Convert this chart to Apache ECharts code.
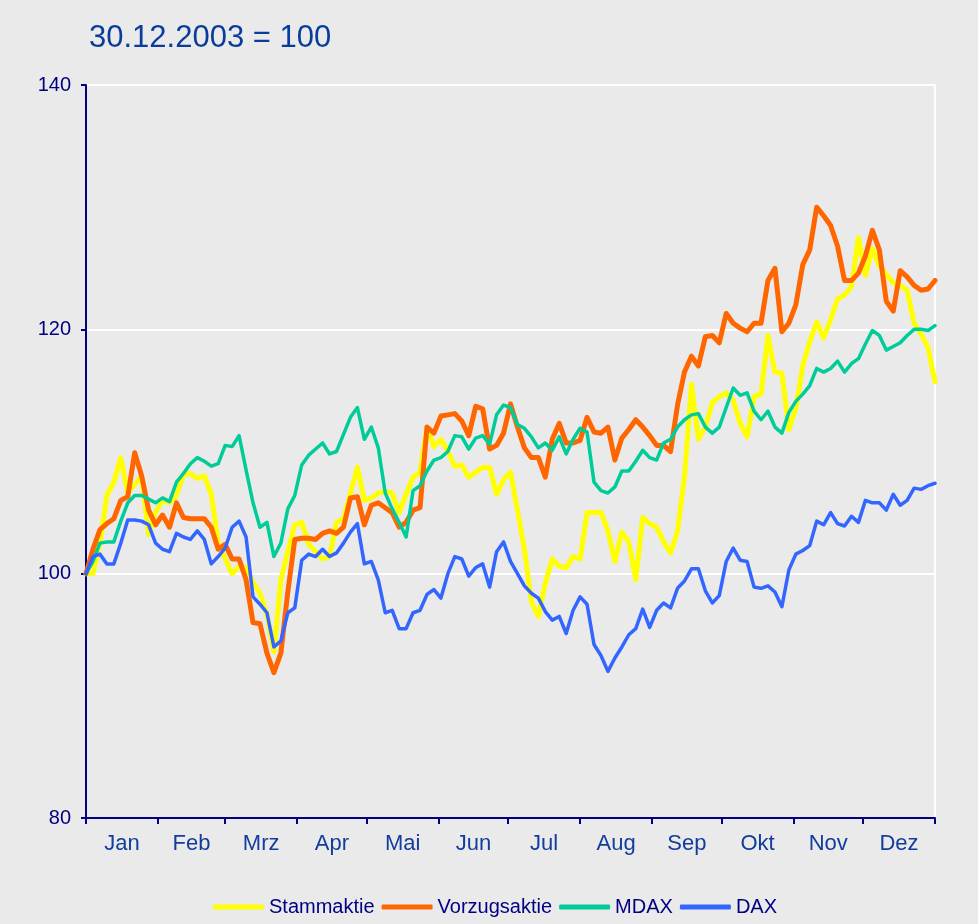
<!DOCTYPE html>
<html>
<head>
<meta charset="utf-8">
<script src="https://cdn.jsdelivr.net/npm/echarts@6/dist/echarts.min.js"></script>
<style>
  html, body { margin: 0; padding: 0; background: #eaeaea; }
  #chart { width: 978px; height: 924px; }
</style>
</head>
<body>
<div id="chart"></div>
<script>
// Tagesraster: alle 3 Kalendertage ab 30.12.2003 (Tag 0) bis Jahresende (Tag 366)
var days = [];
for (var d = 0; d <= 366; d += 3) days.push(d);

var months = ["Jan", "Feb", "Mrz", "Apr", "Mai", "Jun", "Jul", "Aug", "Sep", "Okt", "Nov", "Dez"];
var monthStarts = [0, 31, 60, 91, 121, 152, 182, 213, 244, 274, 305, 335, 366];
var yTicks = [80, 100, 120, 140];

var stammaktie = [
  100.0, 100.0, 102.5, 106.4, 107.5, 109.5, 106.6, 107.3, 108.0, 103.2,
  105.0, 106.0, 105.8, 106.4, 108.1, 108.2, 107.8, 108.0, 106.5, 102.5,
  101.2, 100.0, 100.6, 100.5, 99.3, 98.4, 96.7, 93.6, 99.5, 101.8,
  104.0, 104.2, 102.4, 101.8, 101.2, 101.4, 104.2, 104.5, 106.6, 108.7,
  106.0, 106.2, 106.6, 106.7, 106.6, 105.0, 106.5, 107.9, 108.3, 112.0,
  110.4, 111.0, 110.0, 108.8, 108.9, 107.9, 108.3, 108.7, 108.7, 106.5,
  107.7, 108.3, 105.2, 102.0, 97.7, 96.5, 99.2, 101.2, 100.6, 100.5,
  101.4, 101.2, 105.0, 105.0, 105.0, 103.5, 101.0, 103.4, 102.6, 99.5,
  104.6, 104.1, 103.8, 102.6, 101.7, 103.5, 107.9, 115.5, 111.0, 112.0,
  114.0, 114.5, 114.8, 114.2, 112.3, 111.2, 114.5, 114.7, 119.5, 116.5,
  116.4, 111.8, 113.5, 117.0, 119.0, 120.6, 119.3, 120.8, 122.5, 122.8,
  123.5, 127.5, 124.4, 126.6, 125.2, 124.5, 123.8, 123.6, 123.2, 120.5,
  119.6, 118.5, 115.7
];

var vorzugsaktie = [
  100.0, 102.0, 103.6, 104.1, 104.5, 106.0, 106.3, 109.9, 108.0, 105.2,
  104.0, 104.8, 103.8, 105.8, 104.6, 104.5, 104.5, 104.5, 103.8, 102.0,
  102.4, 101.2, 101.2, 99.5, 96.0, 95.9, 93.5, 91.9, 93.5, 98.5,
  102.8, 102.9, 102.9, 102.8, 103.3, 103.5, 103.3, 103.8, 106.2, 106.3,
  104.0, 105.6, 105.8, 105.4, 105.0, 103.8, 104.2, 105.2, 105.4, 112.0,
  111.5, 112.9, 113.0, 113.1, 112.5, 111.3, 113.7, 113.5, 110.2, 110.5,
  111.5, 113.9, 112.0, 110.3, 109.5, 109.5, 107.9, 111.0, 112.3, 110.7,
  110.7, 110.9, 112.8, 111.6, 111.5, 112.0, 109.3, 111.1, 111.8, 112.6,
  112.0, 111.3, 110.5, 110.5, 110.0, 113.8, 116.5, 117.8, 117.0, 119.4,
  119.5, 118.9, 121.3, 120.5, 120.1, 119.8, 120.5, 120.5, 124.0, 125.0,
  119.8, 120.5, 122.0, 125.3, 126.5, 130.0, 129.3, 128.5, 126.8, 124.0,
  124.0, 124.6, 126.0, 128.1, 126.5, 122.3, 121.5, 124.8, 124.3, 123.6,
  123.2, 123.3, 124.0
];

var mdax = [
  100.0, 101.0, 102.5, 102.6, 102.6, 104.3, 105.8, 106.4, 106.4, 106.1,
  105.8, 106.2, 105.9, 107.5, 108.2, 109.0, 109.5, 109.2, 108.8, 109.0,
  110.5, 110.4, 111.3, 108.5, 105.8, 103.8, 104.2, 101.4, 102.5, 105.3,
  106.4, 108.9, 109.7, 110.2, 110.7, 109.8, 110.0, 111.4, 112.8, 113.6,
  111.0, 112.0, 110.3, 106.6, 105.3, 104.2, 103.0, 106.8, 107.2, 108.4,
  109.3, 109.5, 110.0, 111.3, 111.2, 110.2, 111.1, 111.3, 110.6, 113.0,
  113.8, 113.6, 112.2, 111.9, 111.2, 110.3, 110.7, 110.1, 111.2, 109.8,
  111.0, 111.9, 111.6, 107.5, 106.8, 106.6, 107.1, 108.4, 108.4, 109.2,
  110.1, 109.5, 109.3, 110.7, 111.0, 112.0, 112.6, 113.0, 113.1, 112.0,
  111.5, 112.0, 113.6, 115.2, 114.6, 114.8, 113.3, 112.6, 113.3, 112.0,
  111.5, 113.2, 114.1, 114.7, 115.4, 116.8, 116.5, 116.8, 117.4, 116.5,
  117.2, 117.6, 118.8, 119.9, 119.5, 118.3, 118.6, 118.9, 119.5, 120.0,
  120.0, 119.9, 120.3
];

var dax = [
  100.0, 101.4, 101.6, 100.8, 100.8, 102.5, 104.4, 104.4, 104.3, 104.0,
  102.5, 102.0, 101.8, 103.3, 103.0, 102.8, 103.5, 102.8, 100.8, 101.4,
  102.1, 103.8, 104.3, 103.0, 98.1, 97.5, 96.8, 94.0, 94.5, 96.8,
  97.2, 101.1, 101.6, 101.4, 102.0, 101.4, 101.7, 102.5, 103.4, 104.1,
  100.8, 101.0, 99.5, 96.8, 97.0, 95.5, 95.5, 96.8, 97.0, 98.3,
  98.7, 98.0, 100.0, 101.4, 101.2, 99.8, 100.5, 100.8, 98.9, 101.8,
  102.6, 101.0, 100.0, 99.0, 98.4, 98.0, 96.9, 96.2, 96.5, 95.1,
  97.0, 98.1, 97.5, 94.2, 93.3, 92.0, 93.1, 94.0, 95.0, 95.5,
  97.1, 95.6, 97.0, 97.6, 97.2, 98.8, 99.4, 100.4, 100.4, 98.6,
  97.6, 98.2, 101.0, 102.1, 101.1, 101.0, 98.9, 98.8, 99.0, 98.5,
  97.3, 100.3, 101.6, 101.9, 102.3, 104.3, 104.0, 105.0, 104.1, 103.9,
  104.7, 104.2, 106.0, 105.8, 105.8, 105.2, 106.5, 105.6, 106.0, 107.0,
  106.9, 107.2, 107.4
];

var monthMids = [];
for (var m = 0; m < 12; m++) monthMids.push((monthStarts[m] + monthStarts[m + 1]) / 2);

function pairs(vals) {
  return days.map(function (d, i) { return [d, vals[i]]; });
}

var navy = "#000080";
var fontFam = "Liberation Sans, Arial, sans-serif";

function lineSeries(name, vals, color, width) {
  return {
    name: name,
    type: "line",
    data: pairs(vals),
    symbol: "none",
    smooth: false,
    lineStyle: { color: color, width: width, join: "round", cap: "round" },
    itemStyle: { color: color },
    animation: false
  };
}

var chart = echarts.init(document.getElementById("chart"));
chart.setOption({
  backgroundColor: "#eaeaea",
  title: {
    text: "30.12.2003 = 100",
    left: 84,
    top: 18,
    textStyle: { color: "#0a3c9c", fontSize: 31, fontWeight: "normal", fontFamily: fontFam }
  },
  legend: {
    bottom: 2,
    left: 208,
    icon: "roundRect",
    itemWidth: 51,
    itemHeight: 5,
    itemGap: 7,
    textStyle: { color: navy, fontSize: 20, fontFamily: fontFam },
    data: ["Stammaktie", "Vorzugsaktie", "MDAX", "DAX"]
  },
  grid: { left: 86, right: 43, top: 85, bottom: 106 },
  xAxis: {
    type: "value",
    min: 0,
    max: 366,
    axisLine: { lineStyle: { color: navy, width: 2 } },
    axisTick: { show: true, length: 6, customValues: monthStarts, lineStyle: { color: navy, width: 2 } },
    axisLabel: {
      customValues: monthMids,
      margin: 15,
      color: "#123d9c",
      fontSize: 22,
      fontFamily: fontFam,
      formatter: function (v) {
        var idx = monthMids.indexOf(v);
        return idx >= 0 ? months[idx] : "";
      }
    },
    splitLine: { show: false }
  },
  yAxis: [
    {
      type: "value",
      min: yTicks[0],
      max: yTicks[yTicks.length - 1],
      interval: 20,
      axisLine: { show: true, lineStyle: { color: navy, width: 2 } },
      axisTick: { show: true, length: 5, lineStyle: { color: navy, width: 2 } },
      axisLabel: { color: navy, fontSize: 20, margin: 15, fontFamily: fontFam },
      splitLine: { show: true, lineStyle: { color: "#ffffff", width: 2 } }
    },
    {
      type: "value",
      position: "right",
      min: yTicks[0],
      max: yTicks[yTicks.length - 1],
      interval: 20,
      axisLine: { show: true, lineStyle: { color: "#ffffff", width: 2 } },
      axisTick: { show: false },
      axisLabel: { show: false },
      splitLine: { show: false }
    }
  ],
  series: [
    lineSeries("Stammaktie", stammaktie, "#ffff00", 5),
    lineSeries("Vorzugsaktie", vorzugsaktie, "#ff6600", 5),
    lineSeries("MDAX", mdax, "#00cc99", 3.5),
    lineSeries("DAX", dax, "#3366ff", 3.5)
  ]
});
</script>
</body>
</html>
